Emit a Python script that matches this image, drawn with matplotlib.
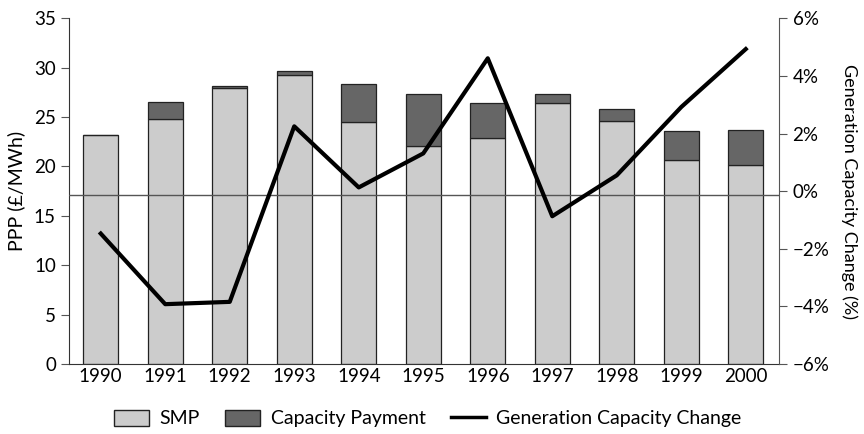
import numpy as np
import matplotlib.pyplot as plt
from matplotlib.patches import Patch
from matplotlib.lines import Line2D
from matplotlib.ticker import FuncFormatter

plt.rcParams['font.family'] = ['Lato', 'DejaVu Sans']

years = ['1990', '1991', '1992', '1993', '1994', '1995',
         '1996', '1997', '1998', '1999', '2000']
smp = [23.2, 24.85, 27.9, 29.3, 24.5, 22.1, 22.9, 26.4, 24.65, 20.7, 20.1]
total = [23.2, 26.5, 28.1, 29.7, 28.3, 27.3, 26.4, 27.3, 25.8, 23.6, 23.65]
cap_change = [-1.47, -3.92, -3.84, 2.25, 0.13, 1.31, 4.61, -0.87, 0.55, 2.92, 4.93]

capacity = [t - s for t, s in zip(total, smp)]

fig = plt.figure(figsize=(8.64, 4.34), dpi=100)
ax = fig.add_axes([0.08, 0.161, 0.822, 0.797])
x = np.arange(len(years))

ax.bar(x, smp, width=0.54, color='#cccccc', edgecolor='#222222', linewidth=0.9)
ax.bar(x, capacity, bottom=smp, width=0.54, color='#666666',
       edgecolor='#222222', linewidth=0.9)

ax.set_xlim(-0.49, 10.52)
ax.set_ylim(0, 35)
ax.set_xticks(x)
ax.set_xticklabels(years)
ax.set_yticks(range(0, 36, 5))
ax.tick_params(axis='x', length=0, labelsize=13.5, pad=3)
ax.tick_params(axis='y', labelsize=13.5, direction='out', length=6, color='#555555')
ax.set_ylabel('PPP (£/MWh)', fontsize=14, labelpad=6)
ax.spines['top'].set_visible(False)
ax.spines['right'].set_visible(False)
for s in ('left', 'bottom'):
    ax.spines[s].set_color('#333333')

ax2 = ax.twinx()
ax2.set_ylim(-6, 6)
ax2.axhline(-0.12, color='#555555', linewidth=1.0)
ax2.plot(x, cap_change, color='black', linewidth=3)
ax2.set_yticks(range(-6, 7, 2))
ax2.yaxis.set_major_formatter(FuncFormatter(lambda v, p: f'{int(v)}%'.replace('-', '\u2212')))
ax2.tick_params(axis='y', labelsize=13.5, direction='out', length=6, color='#555555')
ax2.set_ylabel('Generation Capacity Change (%)', fontsize=13, rotation=270, labelpad=20)
ax2.spines['top'].set_visible(False)
ax2.spines['left'].set_visible(False)
ax2.spines['bottom'].set_visible(False)
ax2.spines['right'].set_color('#555555')

handles = [Patch(facecolor='#cccccc', edgecolor='#222222', label='SMP'),
           Patch(facecolor='#666666', edgecolor='#222222', label='Capacity Payment'),
           Line2D([0], [0], color='black', linewidth=2.5, label='Generation Capacity Change')]
fig.legend(handles=handles, loc='lower center', bbox_to_anchor=(0.495, -0.025), ncol=3,
           frameon=False, fontsize=14, handlelength=1.8, handleheight=0.9,
           columnspacing=1.3, handletextpad=0.55)

fig.savefig('out.png', dpi=100)
